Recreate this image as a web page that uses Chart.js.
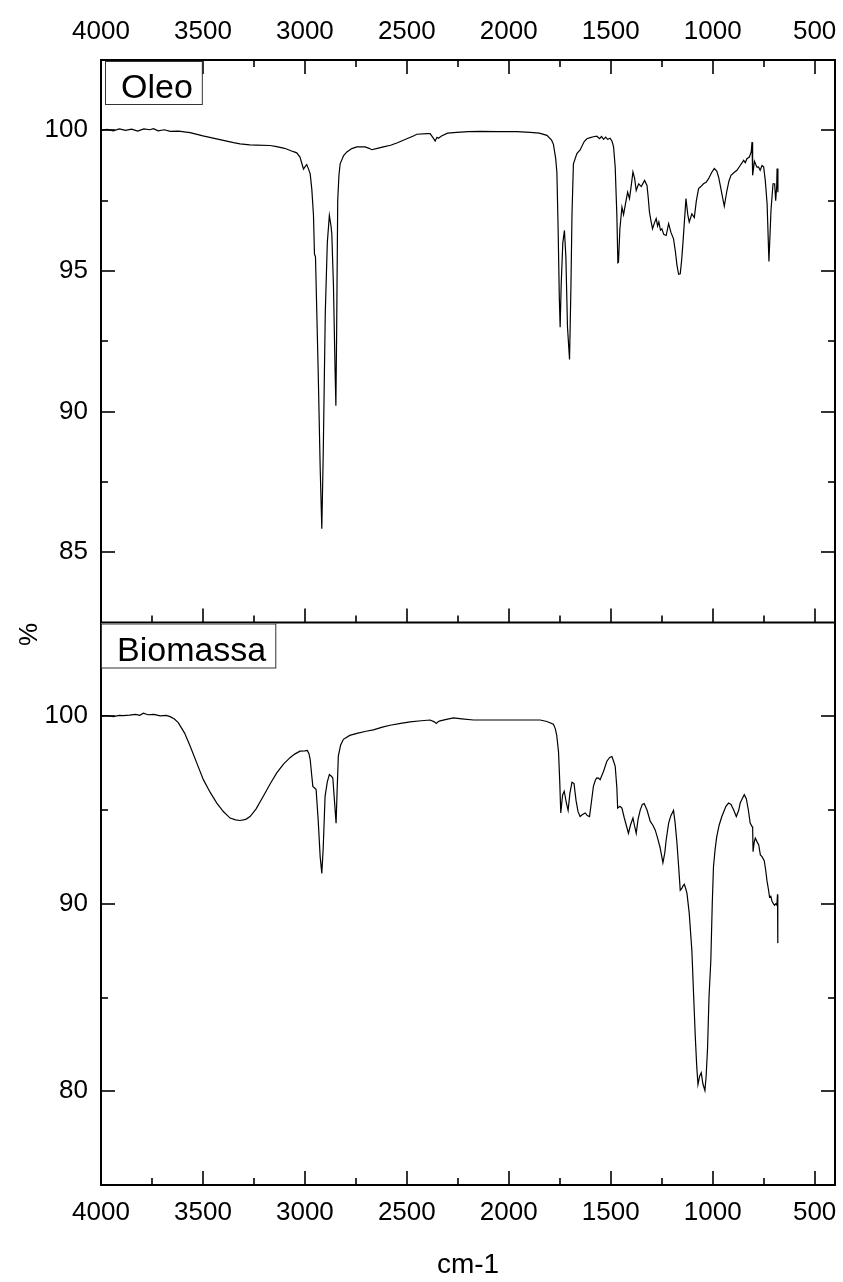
<!DOCTYPE html>
<html>
<head>
<meta charset="utf-8">
<title>FTIR - Oleo / Biomassa</title>
<script src="https://cdn.jsdelivr.net/npm/chart.js@4.4.1/dist/chart.umd.min.js"></script>
<style>
  html, body { margin: 0; padding: 0; background: #fff; }
  canvas { display: block; }
</style>
</head>
<body>
<canvas id="ftir-chart" width="843" height="1282"></canvas>
<script>
const FONT = '"Liberation Sans", Arial, Helvetica, sans-serif';

// axis ticks
const xTickLabels = [4000, 3500, 3000, 2500, 2000, 1500, 1000, 500];
const xMinorTicks = [3750, 3250, 2750, 2250, 1750, 1250, 750];
const oleoTicks = [85, 90, 95, 100];
const oleoMinorTicks = [87.5, 92.5, 97.5];
const biomassaTicks = [80, 90, 100];
const biomassaMinorTicks = [85, 95];

// Oleo spectrum (cm-1, %)
const oleoWavenumber = [
  4000, 3970, 3940, 3910, 3880, 3850, 3820, 3790, 3760, 3743, 3720, 3690, 3660, 3620, 3563,
  3500, 3450, 3400, 3350, 3318, 3270, 3236, 3171, 3138, 3100, 3056, 3040, 3024, 3012, 3007,
  2998, 2991, 2982, 2974, 2966, 2958, 2953, 2948, 2935, 2925, 2917, 2910, 2900, 2890, 2880,
  2872, 2868, 2860, 2852, 2848, 2844, 2839, 2833, 2827, 2810, 2794, 2770, 2745, 2705, 2685,
  2672, 2650, 2615, 2580, 2549, 2500, 2468, 2451, 2400, 2386, 2370, 2361, 2352, 2345, 2330,
  2300, 2255, 2198, 2140, 2050, 1960, 1895, 1850, 1813, 1790, 1781, 1770, 1764, 1758, 1752,
  1748, 1743, 1735, 1727, 1720, 1712, 1702, 1695, 1690, 1683, 1666, 1650, 1630, 1617, 1600,
  1585, 1568, 1555, 1545, 1535, 1525, 1515, 1503, 1493, 1486, 1478, 1470, 1465, 1462, 1455,
  1445, 1437, 1429, 1417, 1408, 1400, 1391, 1383, 1375, 1363, 1350, 1334, 1322, 1316, 1310,
  1303, 1295, 1286, 1277, 1270, 1264, 1256, 1249, 1240, 1228, 1216, 1205, 1192, 1183, 1175,
  1167, 1159, 1152, 1146, 1131, 1122, 1115, 1102, 1090, 1080, 1069, 1058, 1045, 1032, 1020,
  1005, 992, 980, 971, 963, 955, 943, 930, 920, 910, 895, 881, 865, 848, 840,
  832, 820, 811, 807, 804, 795, 783, 775, 767, 758, 750, 742, 733, 724, 714,
  704, 696, 691, 686, 684, 680
];
const oleoPercent = [
  100.0, 100.03, 99.98, 100.05, 100.0, 100.04, 99.97, 100.05, 100.02, 100.06, 99.98, 100.02, 99.96, 99.97, 99.92,
  99.80, 99.72, 99.64, 99.56, 99.52, 99.48, 99.47, 99.46, 99.42, 99.36, 99.24, 99.2, 99.05, 98.75, 98.62,
  98.72, 98.78, 98.62, 98.45, 97.9, 97.0, 95.6, 95.5, 91.5, 88.0, 85.83, 88.5, 93.5, 96.0, 96.97,
  96.6, 96.32, 94.5, 91.5, 90.21, 93.0, 97.5, 98.4, 98.81, 99.1, 99.23, 99.35, 99.41, 99.41, 99.36,
  99.31, 99.35, 99.41, 99.47, 99.55, 99.7, 99.8, 99.86, 99.88, 99.88, 99.72, 99.62, 99.75, 99.72, 99.8,
  99.9, 99.93, 99.95, 99.96, 99.95, 99.95, 99.93, 99.9, 99.82, 99.65, 99.5, 99.0, 98.5, 96.5, 94.0,
  93.0, 94.5, 96.0, 96.44, 95.5, 93.0, 91.85, 94.5, 97.0, 98.81, 99.17, 99.3, 99.6, 99.7, 99.74,
  99.77, 99.79, 99.70, 99.78, 99.68, 99.76, 99.68, 99.72, 99.6, 99.41, 98.69, 97.0, 95.29, 95.31, 96.5,
  97.27, 97.0, 97.33, 97.8, 97.57, 98.0, 98.52, 98.3, 97.86, 98.1, 98.0, 98.22, 98.04, 97.6, 97.09,
  96.8, 96.5, 96.7, 96.86, 96.6, 96.74, 96.45, 96.5, 96.3, 96.26, 96.68, 96.38, 96.14, 95.7, 95.2,
  94.88, 94.9, 95.4, 95.97, 97.57, 97.0, 96.74, 97.03, 96.9, 97.5, 97.93, 98.0, 98.1, 98.15, 98.28,
  98.5, 98.64, 98.55, 98.34, 98.05, 97.75, 97.3, 97.86, 98.2, 98.4, 98.5, 98.58, 98.75, 98.93, 98.85,
  98.99, 99.05, 99.23, 99.58, 98.4, 98.9, 98.69, 98.7, 98.58, 98.75, 98.7, 98.22, 97.39, 95.34, 97.15,
  98.1, 98.1, 97.5, 98.0, 98.64, 97.8
];

// Biomassa spectrum (cm-1, %)
const biomassaWavenumber = [
  4000, 3970, 3940, 3910, 3891, 3860, 3830, 3810, 3792, 3770, 3740, 3710, 3680, 3661, 3640,
  3621, 3590, 3563, 3530, 3498, 3465, 3432, 3400, 3367, 3340, 3318, 3290, 3269, 3240, 3204,
  3170, 3138, 3105, 3073, 3050, 3024, 3000, 2988, 2980, 2974, 2966, 2961, 2950, 2945, 2935,
  2925, 2917, 2910, 2901, 2890, 2880, 2870, 2863, 2855, 2847, 2842, 2836, 2825, 2811, 2780,
  2745, 2700, 2664, 2620, 2582, 2530, 2484, 2430, 2386, 2365, 2356, 2345, 2337, 2300, 2271,
  2230, 2173, 2100, 2042, 1928, 1846, 1813, 1781, 1772, 1765, 1756, 1750, 1745, 1736, 1728,
  1718, 1709, 1700, 1690, 1680, 1670, 1660, 1650, 1640, 1632, 1625, 1615, 1604, 1595, 1585,
  1575, 1568, 1560, 1552, 1535, 1519, 1505, 1494, 1486, 1478, 1470, 1466, 1455, 1445, 1434,
  1424, 1413, 1403, 1391, 1384, 1375, 1366, 1355, 1345, 1336, 1322, 1306, 1294, 1282, 1270,
  1258, 1244, 1235, 1228, 1216, 1205, 1192, 1184, 1175, 1167, 1159, 1152, 1146, 1139, 1132,
  1126, 1115, 1102, 1093, 1085, 1078, 1072, 1064, 1056, 1048, 1038, 1032, 1025, 1018, 1009,
  1002, 996, 988, 980, 968, 955, 935, 922, 910, 897, 884, 872, 865, 855, 845,
  835, 825, 816, 806, 804, 802, 796, 791, 782, 774, 766, 758, 747, 740, 734,
  727, 721, 715, 708, 697, 690, 685, 682, 681, 680
];
const biomassaPercent = [
  100.02, 100.04, 99.98, 100.05, 100.03, 100.06, 100.1, 100.05, 100.16, 100.08, 100.1, 100.02, 100.05, 99.98, 99.85,
  99.66, 99.1, 98.41, 97.5, 96.62, 95.95, 95.37, 94.92, 94.57, 94.47, 94.44, 94.5, 94.65, 95.05, 95.73,
  96.4, 96.98, 97.45, 97.79, 97.98, 98.14, 98.15, 98.18, 98.0, 97.69, 96.8, 96.26, 96.15, 96.09, 94.5,
  92.5, 91.62, 93.0, 95.73, 96.5, 96.89, 96.8, 96.71, 95.5, 94.3, 96.0, 97.87, 98.45, 98.77, 98.98,
  99.09, 99.2, 99.27, 99.42, 99.52, 99.62, 99.7, 99.76, 99.8, 99.7, 99.62, 99.72, 99.75, 99.85, 99.91,
  99.86, 99.8, 99.8, 99.8, 99.8, 99.8, 99.72, 99.57, 99.34, 99.0, 98.1, 96.5, 94.84, 95.8, 96.0,
  95.4, 94.98, 95.9, 96.48, 96.41, 95.5, 94.9, 94.65, 94.75, 94.8, 94.84, 94.7, 94.65, 95.4, 96.26,
  96.6, 96.71, 96.7, 96.62, 97.07, 97.6, 97.8, 97.85, 97.6, 97.33, 96.2, 95.1, 95.2, 95.1, 94.6,
  94.2, 93.76, 94.2, 94.57, 94.2, 93.76, 94.5, 95.01, 95.3, 95.34, 95.0, 94.39, 94.2, 93.94, 93.5,
  93.0, 92.19, 92.7, 93.4, 94.3, 94.7, 94.98, 94.3, 93.23, 92.0, 90.72, 90.8, 90.94, 91.04, 90.8,
  90.55, 89.5, 87.51, 85.0, 82.86, 81.3, 80.36, 80.8, 80.98, 80.4, 80.04, 80.8, 82.32, 85.0, 86.97,
  90.0, 91.97, 92.9, 93.58, 94.2, 94.65, 95.2, 95.37, 95.3, 95.0, 94.65, 95.0, 95.37, 95.6, 95.82,
  95.6, 95.0, 94.3, 94.1, 94.12, 92.78, 93.3, 93.5, 93.3, 93.14, 92.6, 92.51, 92.3, 91.8, 91.26,
  90.8, 90.36, 90.4, 90.1, 89.92, 90.0, 89.92, 90.5, 88.5, 87.9
];

const toPoints = (xs, ys) => xs.map((x, i) => ({ x: x, y: ys[i] }));

const plainTicks = (list) => (scale) => { scale.ticks = list.map(v => ({ value: v })); };

// frame, inward ticks, panel captions and the shared y title
const panelFrame = {
  id: 'panelFrame',
  afterDraw(chart) {
    const { ctx, chartArea: area, scales } = chart;
    const x = scales.x, yTop = scales.yTop, yBot = scales.yBot;
    const line = (x1, y1, x2, y2) => {
      ctx.beginPath();
      ctx.moveTo(x1, y1);
      ctx.lineTo(x2, y2);
      ctx.stroke();
    };
    ctx.save();
    ctx.strokeStyle = '#000';
    ctx.lineWidth = 1.6;

    const xTicks = (list, len) => list.forEach(v => {
      const px = Math.round(x.getPixelForValue(v));
      line(px, yTop.top, px, yTop.top + len);
      line(px, yTop.bottom, px, yTop.bottom - len);
      line(px, yBot.bottom, px, yBot.bottom - len);
    });
    xTicks(xTickLabels, 14);
    xTicks(xMinorTicks, 7);

    const yTicks = (scale, list, len) => list.forEach(v => {
      const py = Math.round(scale.getPixelForValue(v));
      line(area.left, py, area.left + len, py);
      line(area.right, py, area.right - len, py);
    });
    yTicks(yTop, oleoTicks, 14);
    yTicks(yTop, oleoMinorTicks, 7);
    yTicks(yBot, biomassaTicks, 14);
    yTicks(yBot, biomassaMinorTicks, 7);

    ctx.lineWidth = 2;
    ctx.strokeRect(area.left, area.top, area.right - area.left, area.bottom - area.top);
    line(area.left, yTop.bottom, area.right, yTop.bottom);

    // captions
    ctx.font = '34px ' + FONT;
    ctx.fillStyle = '#000';
    ctx.textBaseline = 'alphabetic';
    ctx.textAlign = 'left';
    const caption = (text, left, top, height) => {
      const w = ctx.measureText(text).width;
      ctx.fillStyle = '#fff';
      ctx.fillRect(left, top, w + 25, height);
      ctx.lineWidth = 1;
      ctx.strokeStyle = '#333';
      ctx.strokeRect(left + 0.5, top + 0.5, w + 25, height);
      ctx.fillStyle = '#000';
      ctx.fillText(text, left + 16, top + 37);
    };
    caption('Oleo', area.left + 4, yTop.top + 1, 43);
    caption('Biomassa', area.left, yBot.top + 1, 44);

    // shared y title
    ctx.font = '26px ' + FONT;
    ctx.translate(30, (area.top + area.bottom) / 2 + 12);
    ctx.rotate(-Math.PI / 2);
    ctx.textAlign = 'center';
    ctx.textBaseline = 'middle';
    ctx.fillText('%', 0, 0);
    ctx.restore();
  }
};

const tickFont = { family: FONT, size: 26 };

const ctx = document.getElementById('ftir-chart').getContext('2d');

const ftirChart = new Chart(ctx, {
  type: 'line',
  data: {
    datasets: [
      {
        label: 'Oleo',
        data: toPoints(oleoWavenumber, oleoPercent),
        xAxisID: 'x',
        yAxisID: 'yTop',
        borderColor: '#000',
        borderWidth: 1.2,
        pointRadius: 0,
        tension: 0,
        fill: false
      },
      {
        label: 'Biomassa',
        data: toPoints(biomassaWavenumber, biomassaPercent),
        xAxisID: 'x',
        yAxisID: 'yBot',
        borderColor: '#000',
        borderWidth: 1.2,
        pointRadius: 0,
        tension: 0,
        fill: false
      }
    ]
  },
  options: {
    responsive: false,
    devicePixelRatio: 1,
    animation: false,
    layout: { autoPadding: false, padding: { left: 0, right: 8, top: 0, bottom: 0 } },
    plugins: {
      legend: { display: false },
      tooltip: { enabled: false }
    },
    scales: {
      x: {
        type: 'linear',
        position: 'bottom',
        reverse: true,
        min: 400,
        max: 4000,
        afterBuildTicks: plainTicks(xTickLabels),
        afterFit: (s) => { s.height = 97; s.paddingLeft = 0; s.paddingRight = 0; },
        grid: { display: false, drawTicks: true, tickLength: 12 },
        border: { display: false },
        ticks: { padding: 0, color: '#000', font: tickFont, maxRotation: 0, autoSkip: false, callback: (v) => String(v) },
        title: { display: true, text: 'cm-1', color: '#000', font: { family: FONT, size: 28 }, padding: { top: 0, bottom: 0 } }
      },
      xTop: {
        type: 'linear',
        position: 'top',
        reverse: true,
        min: 400,
        max: 4000,
        afterBuildTicks: plainTicks(xTickLabels),
        afterFit: (s) => { s.height = 60; s.paddingLeft = 0; s.paddingRight = 0; },
        grid: { display: false, drawTicks: true, tickLength: 13 },
        border: { display: false },
        ticks: { padding: 0, color: '#000', font: tickFont, maxRotation: 0, autoSkip: false, callback: (v) => String(v) }
      },
      yBot: {
        type: 'linear',
        position: 'left',
        stack: 'panels',
        stackWeight: 1,
        weight: 0,
        min: 75,
        max: 105,
        afterBuildTicks: plainTicks(biomassaTicks),
        afterFit: (s) => { s.width = 101; s.paddingTop = 0; s.paddingBottom = 0; },
        grid: { display: false, drawTicks: true, tickLength: 13 },
        border: { display: false },
        ticks: { padding: 0, color: '#000', font: tickFont, callback: (v) => String(v) }
      },
      yTop: {
        type: 'linear',
        position: 'left',
        stack: 'panels',
        stackWeight: 1,
        weight: 1,
        min: 82.5,
        max: 102.5,
        afterBuildTicks: plainTicks(oleoTicks),
        afterFit: (s) => { s.width = 101; s.paddingTop = 0; s.paddingBottom = 0; },
        grid: { display: false, drawTicks: true, tickLength: 13 },
        border: { display: false },
        ticks: { padding: 0, color: '#000', font: tickFont, callback: (v) => String(v) }
      }
    }
  },
  plugins: [panelFrame]
});
</script>
</body>
</html>
